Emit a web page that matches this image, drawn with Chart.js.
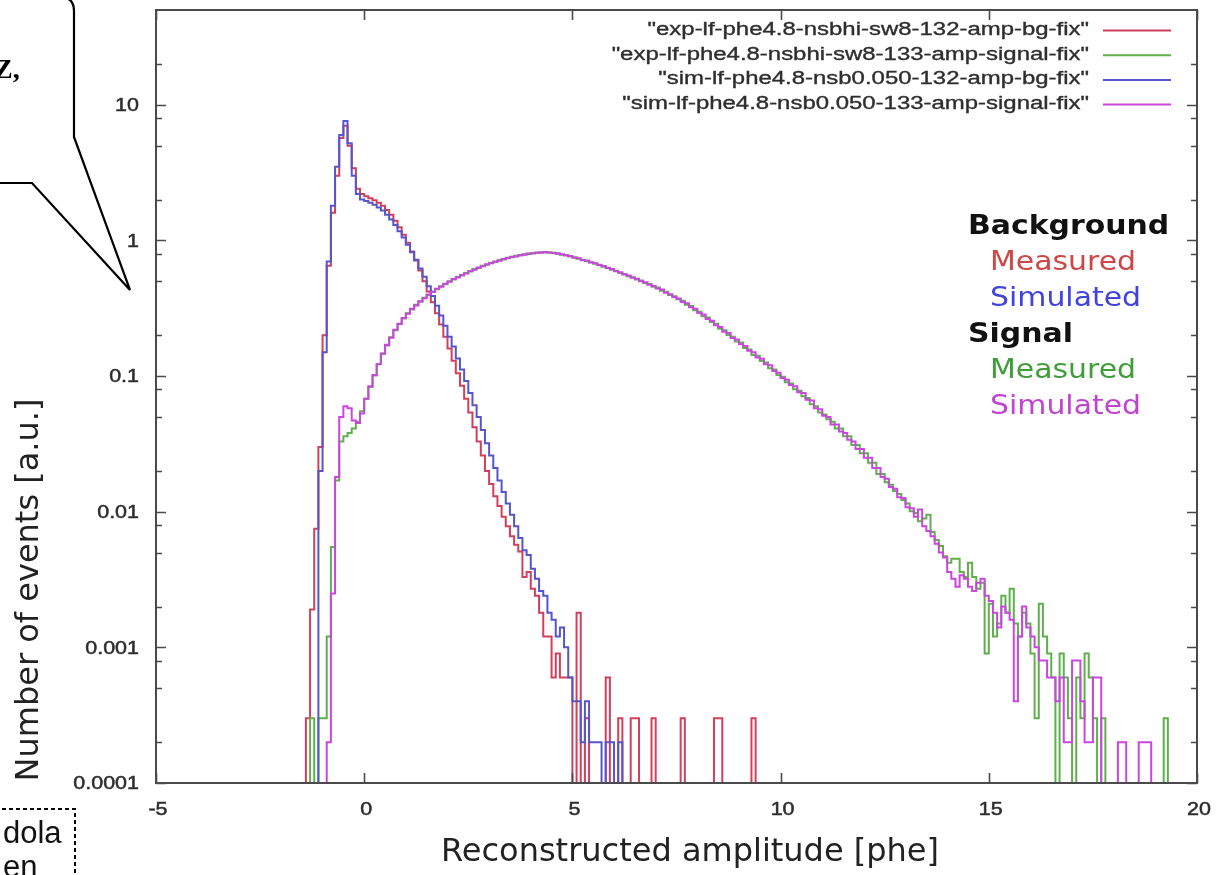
<!DOCTYPE html>
<html lang="en">
<head>
<meta charset="utf-8">
<title>Reconstructed amplitude</title>
<script src="https://cdn.jsdelivr.net/npm/chart.js"></script>
<style>
  html, body { margin:0; padding:0; background:#ffffff; }
  #stage { position:relative; width:1222px; height:875px; overflow:hidden; background:#ffffff; }
  #chart { position:absolute; left:0; top:0; }
  #deco { position:absolute; left:0; top:0; pointer-events:none; }
</style>
</head>
<body>
<div id="stage">
  <canvas id="chart" width="1222" height="875"></canvas>
  <svg id="deco" width="1222" height="875" viewBox="0 0 1222 875">
    <path d="M-5,-3 L60,-3 Q74,-3 74,11 L74,137 L130,290 L32,183 L-5,183 Z" fill="#ffffff" stroke="none"/>
    <path d="M-5,-3 L60,-3 Q74,-3 74,11 L74,137 L130,290 L32,183 L-5,183" fill="none" stroke="#000" stroke-width="2.2" stroke-linejoin="miter"/>
    <text x="-6" y="78" font-family="Liberation Serif" font-weight="bold" font-size="28" fill="#000">Z,</text>
    <path d="M-5,809 L75,809 L75,880" fill="none" stroke="#000" stroke-width="2" stroke-dasharray="4 3"/>
    <text x="3" y="843" font-family="Liberation Sans" font-size="31" fill="#111">dola</text>
    <text x="3" y="877" font-family="Liberation Sans" font-size="31" fill="#111">en</text>
  </svg>
</div>
<script>
// ---------------- data ----------------
const binWidth = 0.1;

const seriesLabels = [
  'exp-lf-phe4.8-nsbhi-sw8-132-amp-bg-fix',
  'exp-lf-phe4.8-nsbhi-sw8-133-amp-signal-fix',
  'sim-lf-phe4.8-nsb0.050-132-amp-bg-fix',
  'sim-lf-phe4.8-nsb0.050-133-amp-signal-fix'
];

// background, measured (left edge of first bin)
const bgMeasuredStart = -1.5;
const bgMeasured = [
  0, 0.0003, 0.0019, 0.0075, 0.03,
  0.2, 0.65, 1.6, 3.0, 5.7, 7.0, 5.0, 3.4, 2.4, 2.2,
  2.12, 2.05, 1.98, 1.9, 1.8, 1.68, 1.55, 1.4, 1.25, 1.1,
  0.96, 0.83, 0.71, 0.6, 0.5, 0.42, 0.35, 0.29, 0.24, 0.195,
  0.16, 0.13, 0.105, 0.085, 0.068, 0.054, 0.042, 0.033, 0.026, 0.02,
  0.016, 0.013, 0.011, 0.0092, 0.0078, 0.0066, 0.0057, 0.0051, 0.0033, 0.0036,
  0.0027, 0.0024, 0.0018, 0.0012, 0.0012, 0.0006, 0.0009, 0.0006, 0.0006, 0.0006,
  0, 0.0018, 0, 0.0003, 0, 0, 0, 0, 0.0006, 0,
  0, 0.0003, 0, 0, 0.0003, 0.0003, 0, 0, 0, 0.0003,
  0, 0, 0, 0, 0, 0, 0.0003, 0, 0, 0,
  0, 0, 0, 0, 0.0003, 0.0003, 0, 0, 0, 0,
  0, 0, 0, 0.0003
];

// background, simulated
const bgSimulatedStart = -1.2;
const bgSimulated = [
  0, 0.02,
  0.15, 0.7, 1.8, 3.5, 6.0, 7.6, 5.2, 3.0, 2.2, 2.0,
  1.95, 1.9, 1.83, 1.75, 1.66, 1.55, 1.43, 1.3, 1.17, 1.05,
  0.93, 0.82, 0.72, 0.62, 0.54, 0.46, 0.39, 0.33, 0.28, 0.235,
  0.195, 0.165, 0.135, 0.112, 0.092, 0.075, 0.061, 0.05, 0.04, 0.032,
  0.026, 0.021, 0.017, 0.014, 0.0115, 0.0095, 0.0078, 0.0064, 0.0052, 0.0048,
  0.0038, 0.0032, 0.0026, 0.0024, 0.0018, 0.0016, 0.0012, 0.0014, 0.001, 0.0006,
  0.0004, 0.0004, 0.0002, 0.0004, 0.0002, 0.0002, 0.0002, 0, 0.0002, 0.0002,
  0, 0.0002
];

// signal, measured
const sigMeasuredStart = -1.4;
const sigMeasured = [
  0, 0.0003, 0, 0.0003,
  0.0003, 0.0012, 0.0055, 0.017, 0.033, 0.036, 0.038, 0.041, 0.046, 0.055,
  0.068, 0.083, 0.101, 0.123, 0.146, 0.168, 0.193, 0.218, 0.243, 0.266,
  0.29, 0.31, 0.335, 0.353, 0.378, 0.396, 0.42, 0.436, 0.46, 0.476,
  0.5, 0.515, 0.538, 0.552, 0.576, 0.59, 0.615, 0.627, 0.65, 0.662,
  0.685, 0.695, 0.716, 0.725, 0.745, 0.752, 0.77, 0.775, 0.79, 0.795,
  0.808, 0.808, 0.82, 0.815, 0.818, 0.806, 0.803, 0.786, 0.782, 0.762,
  0.752, 0.732, 0.722, 0.702, 0.692, 0.672, 0.662, 0.641, 0.63, 0.609,
  0.598, 0.576, 0.566, 0.545, 0.536, 0.515, 0.507, 0.486, 0.477, 0.456,
  0.449, 0.426, 0.418, 0.396, 0.388, 0.368, 0.36, 0.336, 0.329, 0.306,
  0.298, 0.276, 0.27, 0.25, 0.243, 0.223, 0.218, 0.201, 0.195, 0.18,
  0.177, 0.161, 0.157, 0.143, 0.141, 0.129, 0.126, 0.114, 0.112, 0.102,
  0.099, 0.09, 0.088, 0.08, 0.078, 0.071, 0.069, 0.062, 0.06, 0.054,
  0.052, 0.048, 0.046, 0.041, 0.041, 0.036, 0.036, 0.031, 0.031, 0.027,
  0.027, 0.023, 0.023, 0.019, 0.019, 0.0165, 0.0158, 0.0142, 0.0135, 0.0122,
  0.0115, 0.0101, 0.0098, 0.0085, 0.0089, 0.0095, 0.0071, 0.0062, 0.0056, 0.0047,
  0.0042, 0.0045, 0.0045, 0.0036, 0.0033, 0.0042, 0.0033, 0.0027, 0.003, 0.0009,
  0.0021, 0.0012, 0.0015, 0.0024, 0.0018, 0.0027, 0.0015, 0.0012, 0.0018, 0.0015,
  0.0009, 0.0003, 0.0021, 0.0012, 0.0009, 0.0006, 0, 0.0009, 0.0006, 0.0003,
  0, 0.0006, 0.0003, 0.0009, 0.0006, 0.0003, 0, 0.0003, 0, 0,
  0, 0, 0, 0, 0, 0, 0, 0, 0, 0,
  0, 0, 0.0003
];

// signal, simulated
const sigSimulatedStart = -1.0;
const sigSimulated = [
  0, 0.0002, 0.0025, 0.018, 0.05, 0.06, 0.058, 0.047, 0.045, 0.053,
  0.068, 0.084, 0.102, 0.122, 0.147, 0.17, 0.192, 0.22, 0.242, 0.268,
  0.288, 0.313, 0.332, 0.356, 0.375, 0.4, 0.416, 0.44, 0.456, 0.48,
  0.495, 0.52, 0.533, 0.557, 0.57, 0.596, 0.608, 0.632, 0.644, 0.668,
  0.678, 0.7, 0.708, 0.73, 0.738, 0.758, 0.763, 0.78, 0.784, 0.8,
  0.8, 0.815, 0.812, 0.822, 0.81, 0.812, 0.797, 0.792, 0.775, 0.768,
  0.746, 0.74, 0.716, 0.71, 0.688, 0.68, 0.658, 0.648, 0.626, 0.617,
  0.594, 0.584, 0.562, 0.552, 0.531, 0.522, 0.5, 0.492, 0.471, 0.462,
  0.443, 0.434, 0.412, 0.402, 0.383, 0.374, 0.352, 0.344, 0.322, 0.314,
  0.292, 0.284, 0.264, 0.256, 0.237, 0.23, 0.212, 0.208, 0.191, 0.186,
  0.172, 0.167, 0.154, 0.15, 0.137, 0.134, 0.122, 0.12, 0.109, 0.106,
  0.097, 0.094, 0.086, 0.084, 0.076, 0.075, 0.067, 0.066, 0.058, 0.057,
  0.051, 0.05, 0.044, 0.044, 0.039, 0.038, 0.034, 0.033, 0.029, 0.029,
  0.025, 0.025, 0.021, 0.021, 0.018, 0.0175, 0.0152, 0.0148, 0.0128, 0.0126,
  0.0108, 0.0106, 0.0092, 0.0104, 0.0078, 0.0072, 0.0066, 0.0058, 0.005, 0.0046,
  0.0036, 0.0032, 0.0028, 0.0034, 0.0032, 0.0028, 0.0026, 0.003, 0.0032, 0.0024,
  0.0022, 0.0018, 0.0014, 0.002, 0.0018, 0.0016, 0.0004, 0.0012, 0.002, 0.0014,
  0.0012, 0.001, 0.0008, 0.0008, 0.0006, 0.0006, 0.0004, 0.0006, 0.0002, 0.0002,
  0.0008, 0.0008, 0.0004, 0.0002, 0.0002, 0.0006, 0.0006, 0, 0, 0,
  0, 0.0002, 0.0002, 0, 0, 0, 0.0002, 0.0002, 0.0002
];

// axes / ticks
const xMin = -5, xMax = 20;
const yMin = 0.0001, yMax = 50;
const xMajorTicks = [-5, 0, 5, 10, 15, 20];
const xTickLabels = ['-5', '0', '5', '10', '15', '20'];
const yMajorTicks = [0.0001, 0.001, 0.01, 0.1, 1, 10];
const yTickLabels = ['0.0001', '0.001', '0.01', '0.1', '1', '10'];
const yMinorTicks = [0.0002, 0.0005, 0.0008, 0.002, 0.005, 0.008, 0.02, 0.05, 0.08,
                     0.2, 0.5, 0.8, 2, 5, 8, 20];
const xTitle = 'Reconstructed amplitude [phe]';
const yTitle = 'Number of events [a.u.]';
const noteLines = [
  { text: 'Background', color: '#111111', weight: 'bold',   indent: 0 },
  { text: 'Measured',   color: '#cf4646', weight: 'normal', indent: 1 },
  { text: 'Simulated',  color: '#4242de', weight: 'normal', indent: 1 },
  { text: 'Signal',     color: '#111111', weight: 'bold',   indent: 0 },
  { text: 'Measured',   color: '#3f9e3a', weight: 'normal', indent: 1 },
  { text: 'Simulated',  color: '#c044d0', weight: 'normal', indent: 1 }
];

// ---------------- styles ----------------
const seriesColors = ['#d23f5c', '#5fb04c', '#5656cc', '#c947df'];
const frameColor = '#4a4a4a';
const labelColor = '#2c2c2c';
const logFloor = 1e-6; // empty bins drawn below the visible log range

function histogramPoints(start, values) {
  const pts = [{ x: start, y: logFloor }];
  values.forEach((v, i) => {
    pts.push({ x: +(start + i * binWidth).toFixed(3), y: v > 0 ? v : logFloor });
  });
  pts.push({ x: +(start + values.length * binWidth).toFixed(3), y: logFloor });
  return pts;
}

const seriesData = [
  histogramPoints(bgMeasuredStart, bgMeasured),
  histogramPoints(sigMeasuredStart, sigMeasured),
  histogramPoints(bgSimulatedStart, bgSimulated),
  histogramPoints(sigSimulatedStart, sigSimulated)
];
const drawOrder = [3, 2, 1, 0]; // later series on top, as in gnuplot

function scaledText(ctx, text, x, y, sx, align, heavy) {
  ctx.save();
  ctx.translate(x, y);
  ctx.scale(sx, 1);
  ctx.textAlign = align;
  if (heavy) {
    ctx.strokeStyle = ctx.fillStyle;
    ctx.lineWidth = heavy;
    ctx.strokeText(text, 0, 0);
  }
  ctx.fillText(text, 0, 0);
  ctx.restore();
}

const gnuplotLook = {
  id: 'gnuplotLook',
  afterDatasetsDraw(chart) {
    const { ctx, chartArea: a } = chart;
    const xs = chart.scales.x, ys = chart.scales.y;
    ctx.save();
    ctx.strokeStyle = frameColor;
    ctx.lineWidth = 1.6;
    ctx.beginPath();
    yMajorTicks.forEach(v => {
      const p = Math.round(ys.getPixelForValue(v)) + 0.5;
      ctx.moveTo(a.left, p); ctx.lineTo(a.left + 10, p);
      ctx.moveTo(a.right, p); ctx.lineTo(a.right - 10, p);
    });
    yMinorTicks.forEach(v => {
      const p = Math.round(ys.getPixelForValue(v)) + 0.5;
      ctx.moveTo(a.left, p); ctx.lineTo(a.left + 6, p);
      ctx.moveTo(a.right, p); ctx.lineTo(a.right - 6, p);
    });
    xMajorTicks.forEach(v => {
      const p = Math.round(xs.getPixelForValue(v)) + 0.5;
      ctx.moveTo(p, a.bottom); ctx.lineTo(p, a.bottom - 10);
      ctx.moveTo(p, a.top); ctx.lineTo(p, a.top + 10);
    });
    ctx.stroke();
    ctx.lineWidth = 2;
    ctx.strokeRect(a.left, a.top, a.right - a.left, a.bottom - a.top);

    // tick labels
    ctx.fillStyle = labelColor;
    ctx.font = '19px "Liberation Sans", Arial, sans-serif';
    ctx.textBaseline = 'middle';
    yMajorTicks.forEach((v, i) => {
      scaledText(ctx, yTickLabels[i], a.left - 17, ys.getPixelForValue(v) + 1, 1.13, 'right', 0.5);
    });
    xMajorTicks.forEach((v, i) => {
      scaledText(ctx, xTickLabels[i], xs.getPixelForValue(v) + 2, a.bottom + 27, 1.13, 'center', 0.5);
    });
    ctx.restore();
  },
  afterDraw(chart) {
    const { ctx, chartArea: a } = chart;
    ctx.save();
    // key (gnuplot style: right-aligned text, sample line to the right)
    ctx.font = '18px "Liberation Sans", Arial, sans-serif';
    ctx.textBaseline = 'middle';
    chart.data.datasets.forEach((ds, i) => {
      const yy = a.top + 20 + i * 24.7;
      ctx.fillStyle = '#2e2e2e';
      scaledText(ctx, '"' + ds.label + '"', a.right - 108, yy, 1.33, 'right', 0.35);
      ctx.strokeStyle = ds.borderColor;
      ctx.lineWidth = 2;
      ctx.beginPath();
      ctx.moveTo(a.right - 94, yy + 0.5);
      ctx.lineTo(a.right - 26, yy + 0.5);
      ctx.stroke();
    });

    // annotation block
    ctx.textBaseline = 'alphabetic';
    noteLines.forEach((n, i) => {
      ctx.font = n.weight + ' 26px "DejaVu Sans", Verdana, sans-serif';
      ctx.fillStyle = n.color;
      scaledText(ctx, n.text, a.right - 229 + n.indent * 22, a.top + 224 + i * 36, 1.15, 'left', 0);
    });

    // axis titles
    ctx.fillStyle = '#222222';
    ctx.font = '32px "DejaVu Sans", Verdana, sans-serif';
    ctx.textAlign = 'center';
    ctx.fillText(xTitle, 690, a.bottom + 78);
    ctx.save();
    ctx.translate(38, 590);
    ctx.rotate(-Math.PI / 2);
    ctx.fillText(yTitle, 0, 0);
    ctx.restore();
    ctx.restore();
  }
};

new Chart(document.getElementById('chart'), {
  type: 'line',
  data: {
    datasets: seriesLabels.map((label, i) => ({
      label,
      data: seriesData[i],
      borderColor: seriesColors[i],
      backgroundColor: seriesColors[i],
      borderWidth: 2,
      stepped: true,
      pointRadius: 0,
      fill: false,
      order: drawOrder[i],
      clip: 0
    }))
  },
  options: {
    responsive: false,
    animation: false,
    devicePixelRatio: 1,
    layout: { padding: { left: 156, right: 25, top: 10, bottom: 92 } },
    plugins: { legend: { display: false }, tooltip: { enabled: false } },
    scales: {
      x: { type: 'linear', min: xMin, max: xMax, display: false },
      y: { type: 'logarithmic', min: yMin, max: yMax, display: false }
    }
  },
  plugins: [gnuplotLook]
});
</script>
</body>
</html>
